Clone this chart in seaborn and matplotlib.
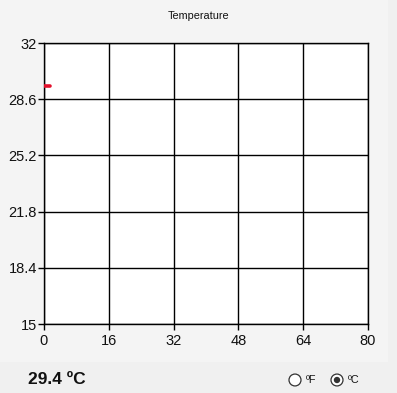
import matplotlib
matplotlib.use("Agg")
import matplotlib.pyplot as plt
import seaborn as sns
import pandas as pd
from matplotlib.patches import Rectangle, Circle

# Data
time_s = [0, 1.4]
temperature_c = [29.4, 29.4]
x_ticks = [0, 16, 32, 48, 64, 80]
y_ticks = [15, 18.4, 21.8, 25.2, 28.6, 32]
y_tick_labels = ["15", "18.4", "21.8", "25.2", "28.6", "32"]
title = "Temperature"
readout = "29.4 ºC"
units = ["ºF", "ºC"]

sns.set_theme(style="white")
plt.rcParams["font.family"] = ["Liberation Sans", "DejaVu Sans"]

W, H = 397, 393
fig = plt.figure(figsize=(W / 100, H / 100), dpi=100)
fig.patch.set_facecolor("#f0f0f0")
# chart panel (slightly lighter)
fig.patches.append(Rectangle((0, 1 - 362 / H), 388 / W, 362 / H, transform=fig.transFigure,
                             facecolor="#f4f4f4", edgecolor="none", zorder=-10))

ax = fig.add_axes([44 / W, 1 - 324 / H, (368 - 44) / W, (324 - 43) / H])
ax.set_zorder(1)
ax.set_facecolor("white")

df = pd.DataFrame({"t": time_s, "temp": temperature_c})
sns.lineplot(data=df, x="t", y="temp", ax=ax, color="#e3102c", linewidth=2.6,
             solid_capstyle="round", zorder=5)

ax.set_xlim(0, 80)
ax.set_ylim(15, 32)
ax.set_xticks(x_ticks)
ax.set_xticklabels([str(v) for v in x_ticks])
ax.set_yticks(y_ticks)
ax.set_yticklabels(y_tick_labels)
ax.set_xlabel("")
ax.set_ylabel("")
ax.grid(True, color="black", linewidth=1.0)
ax.set_axisbelow(True)
for s in ax.spines.values():
    s.set_color("black")
    s.set_linewidth(1.0)
ax.tick_params(axis="both", which="major", length=4, width=1, color="black",
               labelsize=10.5, labelcolor="#111111", direction="out",
               bottom=True, left=True)
ax.tick_params(axis="x", pad=3)
ax.tick_params(axis="y", pad=1)

fig.text(198 / W, 1 - 16 / H, title, ha="center", va="center", fontsize=7.8, color="#111111")
fig.text(28 / W, 1 - 380 / H, readout, ha="left", va="center", fontsize=12.5,
         fontweight="bold", color="#111111")

# radio buttons
for cx, lbl, sel in [(295, units[0], False), (337, units[1], True)]:
    fig.patches.append(Circle((cx / W, 1 - 380 / H), 6 / W, transform=fig.transFigure,
                              facecolor="white", edgecolor="#333333", linewidth=0.9, zorder=3))
    if sel:
        fig.patches.append(Circle((cx / W, 1 - 380 / H), 3.2 / W, transform=fig.transFigure,
                                  facecolor="#333333", edgecolor="none", zorder=4))
    fig.text((cx + 11) / W, 1 - 380 / H, lbl, ha="left", va="center", fontsize=7.8,
             color="#111111")

fig.savefig("out.png", dpi=100, facecolor=fig.get_facecolor())
